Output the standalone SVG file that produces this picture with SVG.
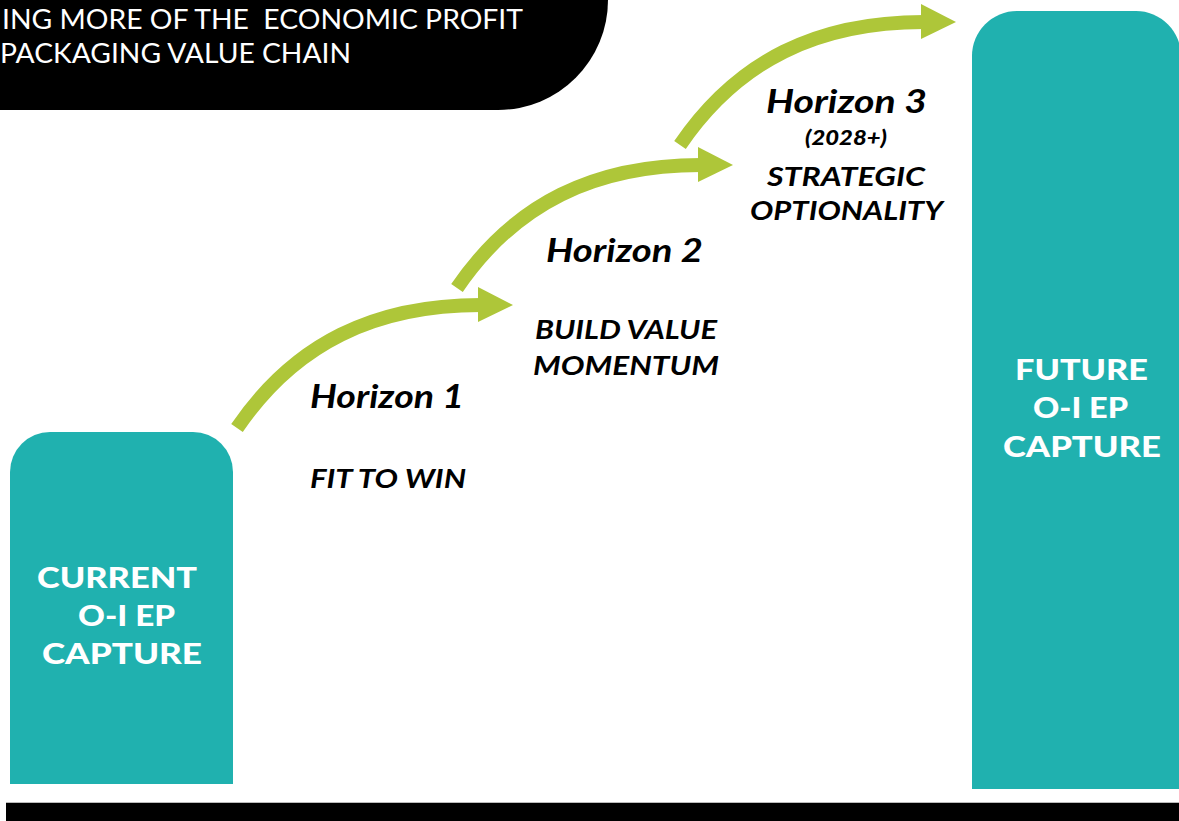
<svg xmlns="http://www.w3.org/2000/svg" width="1179" height="821" viewBox="0 0 1179 821">
  <defs>
    <style>
      .title { font-family: Lato, "Open Sans", "Liberation Sans", sans-serif; font-size: 26px; fill: #ffffff; white-space: pre; }
      .box { fill: #20B1AF; }
      .boxlabel { font-family: Lato, "Open Sans", "Liberation Sans", sans-serif; font-weight: 900; font-size: 29px; fill: #ffffff; }
      .hz { font-family: Lato, "Open Sans", "Liberation Sans", sans-serif; font-weight: bold; font-style: italic; font-size: 33px; fill: #000000; }
      .sub { font-family: Lato, "Open Sans", "Liberation Sans", sans-serif; font-weight: bold; font-style: italic; font-size: 27px; fill: #000000; }
      .year { font-family: Lato, "Open Sans", "Liberation Sans", sans-serif; font-weight: 900; font-style: italic; font-size: 21px; fill: #000000; }
      .shaft { fill: none; stroke: #AEC639; stroke-width: 14; stroke-linecap: butt; }
      .head { fill: #AEC639; }
    </style>
    <!-- one curved step arrow, drawn at the first horizon's position -->
    <g id="stepArrow">
      <path class="shaft" d="M237,428 C295,343 375,305 481,305"/>
      <polygon class="head" points="478,287 513,305 478,322"/>
    </g>
  </defs>

  <rect x="0" y="0" width="1179" height="821" fill="#ffffff"/>

  <!-- header banner -->
  <g id="header">
    <path d="M0,0 H608 A110,110 0 0 1 498,110 H0 Z" fill="#000000"/>
    <text class="title" x="2" y="29" textLength="521" lengthAdjust="spacingAndGlyphs">ING MORE OF THE  ECONOMIC PROFIT</text>
    <text class="title" x="0" y="63" textLength="351" lengthAdjust="spacingAndGlyphs">PACKAGING VALUE CHAIN</text>
  </g>

  <!-- starting column -->
  <g id="current">
    <path class="box" d="M10,784 V472 A40,40 0 0 1 50,432 H193 A40,40 0 0 1 233,472 V784 Z"/>
    <text class="boxlabel" x="37" y="588" textLength="160" lengthAdjust="spacingAndGlyphs">CURRENT</text>
    <text class="boxlabel" x="78" y="626" textLength="97" lengthAdjust="spacingAndGlyphs">O-I EP</text>
    <text class="boxlabel" x="42" y="664" textLength="160" lengthAdjust="spacingAndGlyphs">CAPTURE</text>
  </g>

  <!-- target column -->
  <g id="future">
    <path class="box" d="M972,789 V56 A45,45 0 0 1 1017,11 H1136 A45,45 0 0 1 1181,56 V789 Z"/>
    <text class="boxlabel" x="1015" y="380" textLength="133" lengthAdjust="spacingAndGlyphs">FUTURE</text>
    <text class="boxlabel" x="1033" y="418" textLength="95" lengthAdjust="spacingAndGlyphs">O-I EP</text>
    <text class="boxlabel" x="1003" y="457" textLength="158" lengthAdjust="spacingAndGlyphs">CAPTURE</text>
  </g>

  <!-- step arrows -->
  <g id="connectors">
    <use href="#stepArrow"/>
    <use href="#stepArrow" transform="translate(220,-140)"/>
    <use href="#stepArrow" transform="translate(443,-283)"/>
  </g>

  <g id="horizon1">
    <text class="hz" x="310" y="408" textLength="154" lengthAdjust="spacingAndGlyphs">Horizon 1</text>
    <text class="sub" x="310" y="488" textLength="156" lengthAdjust="spacingAndGlyphs">FIT TO WIN</text>
  </g>

  <g id="horizon2">
    <text class="hz" x="546" y="262" textLength="157" lengthAdjust="spacingAndGlyphs">Horizon 2</text>
    <text class="sub" x="535" y="339" textLength="182" lengthAdjust="spacingAndGlyphs">BUILD VALUE</text>
    <text class="sub" x="533" y="375" textLength="186" lengthAdjust="spacingAndGlyphs">MOMENTUM</text>
  </g>

  <g id="horizon3">
    <text class="hz" x="766" y="113" textLength="161" lengthAdjust="spacingAndGlyphs">Horizon 3</text>
    <text class="year" x="805" y="145" textLength="82" lengthAdjust="spacingAndGlyphs">(2028+)</text>
    <text class="sub" x="767" y="186" textLength="158" lengthAdjust="spacingAndGlyphs">STRATEGIC</text>
    <text class="sub" x="750" y="220" textLength="193" lengthAdjust="spacingAndGlyphs">OPTIONALITY</text>
  </g>

  <!-- footer band -->
  <g id="footer">
    <rect x="6" y="802" width="1173" height="1" fill="#bbbbbb"/>
    <rect x="6" y="803" width="1173" height="18" fill="#000000"/>
  </g>
</svg>
